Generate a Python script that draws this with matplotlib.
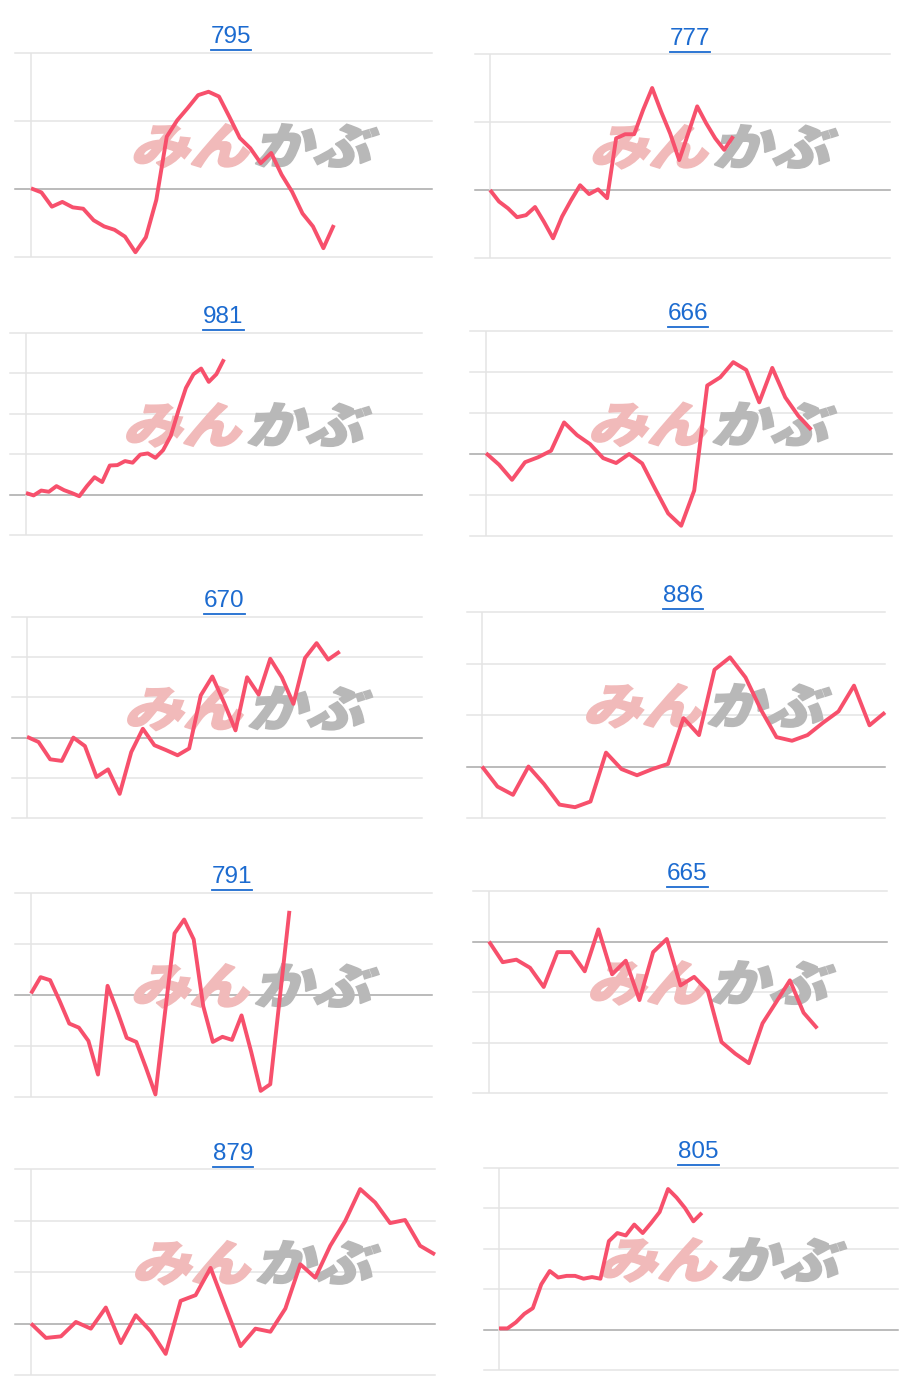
import matplotlib
matplotlib.use("Agg")
import matplotlib.pyplot as plt
from matplotlib.textpath import TextPath
from matplotlib.patches import PathPatch
from matplotlib.font_manager import FontProperties
from matplotlib.transforms import Affine2D, Bbox
from matplotlib.lines import Line2D

W, H = 920, 1391

# ---- data (values in gridline units, 0 = darker baseline) ----
titles = ["795", "777", "981", "666", "670", "886", "791", "665", "879", "805"]

vals_795 = [0.01, -0.05, -0.26, -0.19, -0.27, -0.29, -0.46, -0.55, -0.60, -0.70,
            -0.93, -0.71, -0.16, 0.77, 1.01, 1.19, 1.38, 1.43, 1.36, 1.06,
            0.75, 0.60, 0.38, 0.53, 0.21, -0.04, -0.36, -0.55, -0.87, -0.53]
vals_777 = [0.0, -0.17, -0.27, -0.40, -0.37, -0.25, -0.47, -0.71, -0.39, -0.15,
            0.07, -0.06, 0.01, -0.12, 0.76, 0.82, 0.82, 1.18, 1.50, 1.15,
            0.83, 0.44, 0.83, 1.23, 0.98, 0.76, 0.59, 0.79]
vals_981 = [0.04, -0.02, 0.10, 0.07, 0.21, 0.11, 0.04, -0.04, 0.21, 0.43,
            0.31, 0.72, 0.73, 0.83, 0.79, 0.99, 1.02, 0.91, 1.10, 1.45,
            2.07, 2.64, 2.98, 3.12, 2.79, 2.98, 3.35]
vals_666 = [0.02, -0.26, -0.63, -0.20, -0.08, 0.08, 0.77, 0.46, 0.24, -0.10,
            -0.22, 0.0, -0.23, -0.85, -1.45, -1.75, -0.89, 1.67, 1.87, 2.24,
            2.05, 1.26, 2.10, 1.38, 0.93, 0.59]
vals_670 = [0.02, -0.11, -0.54, -0.58, 0.0, -0.21, -0.98, -0.79, -1.40, -0.36,
            0.22, -0.19, -0.31, -0.44, -0.27, 1.05, 1.52, 0.88, 0.18, 1.50,
            1.07, 1.96, 1.50, 0.84, 1.98, 2.35, 1.94, 2.14]
vals_886 = [0.0, -0.39, -0.55, 0.0, -0.34, -0.74, -0.79, -0.68, 0.27, -0.05,
            -0.17, -0.05, 0.05, 0.94, 0.61, 1.88, 2.12, 1.73, 1.10, 0.57,
            0.50, 0.61, 0.85, 1.07, 1.57, 0.80, 1.05]
vals_791 = [0.03, 0.35, 0.29, -0.12, -0.56, -0.64, -0.90, -1.56, 0.18, -0.31,
            -0.84, -0.92, -1.42, -1.95, -0.35, 1.21, 1.48, 1.09, -0.22, -0.92,
            -0.82, -0.88, -0.40, -1.11, -1.88, -1.75, -0.05, 1.65]
vals_665 = [0.0, -0.41, -0.36, -0.52, -0.90, -0.21, -0.21, -0.59, 0.24, -0.65,
            -0.38, -1.16, -0.21, 0.05, -0.87, -0.70, -0.98, -1.99, -2.22, -2.41,
            -1.62, -1.20, -0.77, -1.41, -1.72]
vals_879 = [0.0, -0.28, -0.25, 0.03, -0.10, 0.31, -0.38, 0.16, -0.15, -0.59,
            0.44, 0.55, 1.08, 0.32, -0.44, -0.10, -0.16, 0.29, 1.15, 0.89,
            1.51, 1.99, 2.61, 2.35, 1.95, 2.01, 1.51, 1.34]
vals_805 = [0.03, 0.03, 0.18, 0.39, 0.53, 1.12, 1.45, 1.29, 1.33, 1.33,
            1.26, 1.30, 1.26, 2.19, 2.39, 2.33, 2.60, 2.39, 2.64, 2.91,
            3.48, 3.27, 3.01, 2.68, 2.89]

series = [vals_795, vals_777, vals_981, vals_666, vals_670,
          vals_886, vals_791, vals_665, vals_879, vals_805]
y_ranges = [(-1, 2), (-1, 2), (-1, 4), (-2, 3), (-2, 3),
            (-1, 3), (-2, 2), (-3, 1), (-1, 3), (-1, 4)]
x_slots = [38.4, 44.4, 52.0, 31.2, 34.1, 26.0, 41.9, 29.1, 27.0, 47.2]

# ---- layout in pixels: grid_left, grid_right, axis_x, top, bottom ----
boxes = [(15, 432, 31, 53, 257), (475, 890, 490, 54, 258),
         (10, 422, 26, 333, 535), (470, 892, 486, 331, 536),
         (12, 422, 27, 617, 818), (467, 885, 482, 612, 818),
         (15, 432, 31, 893, 1097), (473, 887, 489, 891, 1093),
         (15, 435, 31, 1169, 1375), (484, 898, 499, 1168, 1370)]
title_pos = [(231, 43), (690, 45), (223.5, 323), (688, 320), (224.5, 607),
             (683, 602), (232, 883), (687.5, 880), (233, 1160), (698.5, 1158)]

LINE = "#f7506c"
GRID = "#e4e4e4"
ZERO = "#a8a8a8"
BLUE = "#1c6bd0"

fig = plt.figure(figsize=(W / 100, H / 100), dpi=100)
pix = Affine2D().scale(1 / W, -1 / H).translate(0, 1) + fig.transFigure

jp = FontProperties(family="Noto Sans CJK JP", weight="heavy")
wm1 = TextPath((0, 0), "みん", size=1, prop=jp)
wm2 = TextPath((2.08, 0), "かぶ", size=1, prop=jp)
ext = Bbox.union([wm1.get_extents(), wm2.get_extents()])


def watermark(ax, cx, cy, w=238, h=44):
    s = w / ext.width
    sy = h / ext.height
    tr = (Affine2D().translate(-ext.x0 - ext.width / 2, -ext.y0 - ext.height / 2)
          .skew_deg(14, 0).scale(s, -sy).translate(cx, cy) + pix)
    ax.add_patch(PathPatch(wm1, transform=tr, facecolor="#f1baba",
                           edgecolor="#f1baba", lw=1.2, clip_on=False, zorder=2))
    ax.add_patch(PathPatch(wm2, transform=tr, facecolor="#b8b8b8",
                           edgecolor="#b8b8b8", lw=1.2, clip_on=False, zorder=2))


for i, vals in enumerate(series):
    gl, gr, axx, top, bot = boxes[i]
    ax = fig.add_axes([gl / W, 1 - bot / H, (gr - gl) / W, (bot - top) / H])
    ppu = (gr - axx) / x_slots[i]
    ax.set_xlim(-(axx - gl) / ppu, x_slots[i])
    y0, y1 = y_ranges[i]
    ax.set_ylim(y0, y1)
    ax.set_axis_off()
    for yv in range(y0, y1 + 1):
        ax.axhline(yv, color=ZERO if yv == 0 else GRID, lw=1.1,
                   clip_on=False, zorder=1)
    ax.axvline(0, color=GRID, lw=1.1, zorder=1)
    watermark(ax, (gl + gr) / 2 + 33, top + 0.455 * (bot - top))
    ax.plot(range(len(vals)), vals, color=LINE, lw=2.8, zorder=3,
            solid_joinstyle="round", solid_capstyle="butt", clip_on=False)

    tx, ty = title_pos[i]
    fig.text(tx / W, 1 - ty / H, titles[i], color=BLUE, fontsize=17.5,
             family="Liberation Sans", ha="center", va="baseline")

# underline the titles
fig.canvas.draw()
r = fig.canvas.get_renderer()
for t in fig.texts:
    bb = t.get_window_extent(r)
    yl = bb.y0 - 2
    fig.add_artist(Line2D([bb.x0 / W, bb.x1 / W], [yl / H, yl / H],
                          transform=fig.transFigure, color=BLUE, lw=1.3))

fig.savefig("out.png", dpi=100, facecolor="white")
